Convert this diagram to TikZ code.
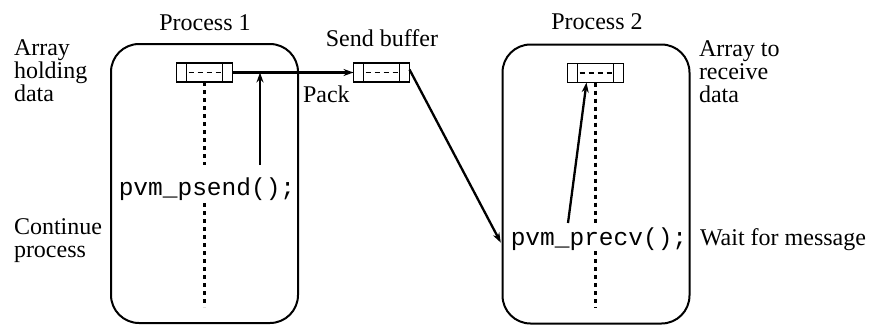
\documentclass[tikz,border=0pt]{standalone}
\usepackage{fontspec}
\setmainfont{Liberation Serif}
\setmonofont{Liberation Mono}
\usetikzlibrary{arrows.meta,calc}
\begin{document}
\begin{tikzpicture}[x=1pt,y=-1pt,
  every node/.style={inner sep=0pt, outer sep=0pt},
  lbl/.style={font=\fontsize{24}{23}\selectfont, align=left},
  code/.style={font=\ttfamily\fontsize{24.5}{24}\selectfont},
  process/.style={draw, line width=2pt, rounded corners=28pt,
    minimum width=187pt, minimum height=279pt},
  arraybox/.style={draw, line width=1.2pt, minimum width=56pt, minimum height=19pt,
    path picture={
      \draw[line width=1.2pt]
        ([xshift=10pt]path picture bounding box.north west) --
        ([xshift=10pt]path picture bounding box.south west)
        ([xshift=-10pt]path picture bounding box.north east) --
        ([xshift=-10pt]path picture bounding box.south east);
      \draw[line width=1.6pt, dash pattern=on 5pt off 4pt]
        ([xshift=12pt]path picture bounding box.west) --
        ([xshift=-10pt]path picture bounding box.east);
    }},
  flow/.style={line width=2.3pt, -{Stealth[length=10pt,width=7pt]}},
  thread/.style={line width=2.6pt, dash pattern=on 4pt off 4pt}
]
\useasboundingbox (0,0) rectangle (876,325);

% the two processes
\node[process] (p1) at (204.5,183.5) {};
\node[process] (p2) at (596,184) {};
\node[lbl, anchor=base] (p1t) at (205,30) {Process 1};
\node[lbl, anchor=base] (p2t) at (597,29) {Process 2};

% arrays and the send buffer
\node[arraybox] (a1) at (204.5,72.5) {};
\node[arraybox] (sb) at (381.5,72.5) {};
\node[arraybox] (a2) at (595.5,73) {};
\node[lbl, anchor=base] (sbt) at (382,46) {Send buffer};

% side labels
\node[lbl, anchor=north west] (l1) at (14,40) {Array\\holding\\data};
\node[lbl, anchor=north west] (l2) at (699,41) {Array to\\receive\\data};
\node[lbl, anchor=north west] (l3) at (14,219) {Continue\\process};
\node[lbl, anchor=base west] (pk) at (303,102) {Pack};
\node[lbl, anchor=base west] (wm) at (700,245) {Wait for message};

% library calls
\node[code, anchor=base] (ps) at (207,195) {pvm\_psend();};
\node[code, anchor=base] (pr) at (599,245) {pvm\_precv();};

% execution threads
\coordinate (t1a) at (204.5,165);
\coordinate (t1b) at (204.5,203);
\coordinate (t1c) at (204.5,307);
\coordinate (t2a) at (595.5,225);
\coordinate (t2b) at (595.5,251);
\coordinate (t2c) at (595.5,308);
\draw[thread] (a1.south) -- (t1a);
\draw[thread] (t1b) -- (t1c);
\draw[thread] (a2.south) -- (t2a);
\draw[thread] (t2b) -- (t2c);

% message flow
\coordinate (sendcall) at (260,165);
\coordinate (recvcall) at (568,223);
\draw[flow] (a1.east) -- (sb.west);
\draw[flow] (sendcall) -- (sendcall |- a1.east);
\draw[flow] ([yshift=3pt]sb.east) -- ([xshift=-10pt,yshift=-4pt]pr.west);
\draw[flow] (recvcall) -- ([xshift=-9pt]a2.south);
\end{tikzpicture}
\end{document}
